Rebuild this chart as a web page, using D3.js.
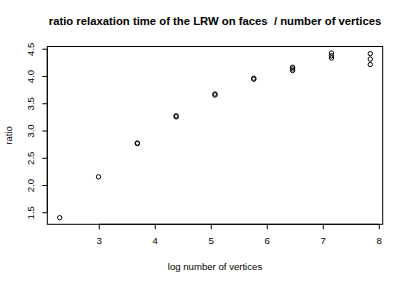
<!DOCTYPE html>
<html>
<head>
<meta charset="utf-8">
<script src="https://cdn.jsdelivr.net/npm/d3@7"></script>
<style>
  body { margin: 0; background: #fff; }
  text { font-family: 'Liberation Sans', Arial, sans-serif; }
</style>
</head>
<body>
<div id="chart"></div>
<script>
'use strict';

// log number of vertices (10, 20, 40, ... vertices)
var logVertices = [2.303, 2.996, 3.689, 4.382, 5.075, 5.768, 6.461, 7.155, 7.848];
// ratio values for each x, several runs per size
var ratios = [
    [1.40],
    [2.15],
    [2.76, 2.77],
    [3.25, 3.27],
    [3.65, 3.67],
    [3.94, 3.96],
    [4.10, 4.13, 4.16],
    [4.33, 4.37, 4.42],
    [4.21, 4.31, 4.41]
];
var xTicks = [3, 4, 5, 6, 7, 8];
var yTicks = [1.5, 2.0, 2.5, 3.0, 3.5, 4.0, 4.5];

var plot = {};
plot.w = 407;
plot.h = 284;
plot.box = {left: 47.3, right: 382.7, top: 46.5, bottom: 224.3};

plot.points = function () {
    var pts = [];
    for (var i = 0; i < logVertices.length; i++) {
        for (var j = 0; j < ratios[i].length; j++) {
            pts.push({x: logVertices[i], y: ratios[i][j]});
        }
    }
    return pts;
}

// R style: 4% padding on the data range
plot.padded = function (ext) {
    var r = ext[1] - ext[0];
    return [ext[0] - 0.04 * r, ext[1] + 0.04 * r];
}

function draw() {
    var pts = plot.points();
    var svg = d3.select('#chart').append('svg')
        .attr('width', plot.w)
        .attr('height', plot.h);

    var xScale = d3.scaleLinear()
        .domain(plot.padded(d3.extent(pts, function (d) { return d.x; })))
        .range([plot.box.left, plot.box.right]);
    var yScale = d3.scaleLinear()
        .domain(plot.padded(d3.extent(pts, function (d) { return d.y; })))
        .range([plot.box.bottom, plot.box.top]);

    svg.append('text')
        .attr('x', (plot.box.left + plot.box.right) / 2)
        .attr('y', 25)
        .attr('text-anchor', 'middle')
        .attr('font-size', '11.3px')
        .attr('font-weight', 'bold')
        .attr('xml:space', 'preserve')
        .text('ratio relaxation time of the LRW on faces  / number of vertices');

    svg.append('rect')
        .attr('x', plot.box.left)
        .attr('y', plot.box.top)
        .attr('width', plot.box.right - plot.box.left)
        .attr('height', plot.box.bottom - plot.box.top)
        .attr('fill', 'none')
        .attr('stroke', '#000')
        .attr('stroke-width', 1);

    var xAxis = d3.axisBottom(xScale).tickValues(xTicks).tickSize(5).tickPadding(8)
        .tickFormat(d3.format('d'));
    var xg = svg.append('g')
        .attr('transform', 'translate(0,' + plot.box.bottom + ')')
        .call(xAxis);
    xg.select('.domain')
        .attr('d', 'M' + xScale(xTicks[0]) + ',0H' + xScale(xTicks[xTicks.length - 1]));
    xg.selectAll('text').attr('font-size', '9.6px').attr('font-family', null);

    var yAxis = d3.axisLeft(yScale).tickValues(yTicks).tickSize(5)
        .tickFormat(d3.format('.1f'));
    var yg = svg.append('g')
        .attr('transform', 'translate(' + plot.box.left + ',0)')
        .call(yAxis);
    yg.select('.domain')
        .attr('d', 'M0,' + yScale(yTicks[0]) + 'V' + yScale(yTicks[yTicks.length - 1]));
    yg.selectAll('text')
        .attr('font-size', '9.6px')
        .attr('font-family', null)
        .attr('x', null).attr('dy', null)
        .attr('y', 0)
        .attr('text-anchor', 'middle')
        .attr('transform', 'translate(-17,0) rotate(-90) translate(0,3.5)');
    svg.selectAll('.domain, .tick line').attr('stroke', '#000');

    svg.append('text')
        .attr('x', (plot.box.left + plot.box.right) / 2)
        .attr('y', 270)
        .attr('text-anchor', 'middle')
        .attr('font-size', '9.6px')
        .text('log number of vertices');

    svg.append('text')
        .attr('transform', 'translate(11.5,' + ((plot.box.top + plot.box.bottom) / 2) + ') rotate(-90)')
        .attr('text-anchor', 'middle')
        .attr('font-size', '9.6px')
        .text('ratio');

    svg.append('g').selectAll('circle')
        .data(pts)
        .enter()
        .append('circle')
        .attr('cx', function (d) { return xScale(d.x); })
        .attr('cy', function (d) { return yScale(d.y); })
        .attr('r', 2.2)
        .attr('fill', 'none')
        .attr('stroke', '#000')
        .attr('stroke-width', 1);
}

draw();
</script>
</body>
</html>
